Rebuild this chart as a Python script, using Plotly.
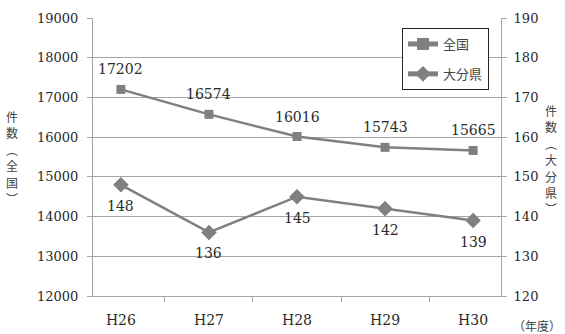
import plotly.graph_objects as go

years = ["H26", "H27", "H28", "H29", "H30"]
national = [17202, 16574, 16016, 15743, 15665]
oita = [148, 136, 145, 142, 139]

left_ticks = [12000, 13000, 14000, 15000, 16000, 17000, 18000, 19000]
right_ticks = [120, 130, 140, 150, 160, 170, 180, 190]

SERIF = "DejaVu Serif, Noto Sans CJK JP, serif"
CJK = "Noto Sans CJK JP"
GRAY = "#808080"
AXIS = "#a6a6a6"
INK = "#2a2a2a"

fig = go.Figure()
fig.add_trace(go.Scatter(
    x=years, y=national, name="全国", mode="lines+markers", legendgroup="a",
    line=dict(color=GRAY, width=2.5),
    marker=dict(symbol="square", size=9, color=GRAY),
))
fig.add_trace(go.Scatter(
    x=years, y=oita, name="大分県", yaxis="y2", mode="lines+markers", legendgroup="b",
    line=dict(color=GRAY, width=2.5),
    marker=dict(symbol="diamond", size=12, color=GRAY),
))

# value labels: national above its points, Oita below
for x, v in zip(years, national):
    fig.add_annotation(x=x, y=v, xref="x", yref="y", text=str(v), showarrow=False,
                       yshift=20, font=dict(family=SERIF, size=14, color=INK))
for x, v in zip(years, oita):
    fig.add_annotation(x=x, y=v, xref="x", yref="y2", text=str(v), showarrow=False,
                       yshift=-21, font=dict(family=SERIF, size=14, color=INK))

fig.update_layout(
    width=565, height=334,
    margin=dict(l=93, r=64, t=18, b=38),
    plot_bgcolor="white", paper_bgcolor="white",
    font=dict(family=SERIF, size=13, color=INK),
    showlegend=True,
    legend=dict(x=(489 - 93) / 408, y=(296 - 28) / 278, xanchor="right", yanchor="top",
                bgcolor="white", bordercolor="#222", borderwidth=1,
                font=dict(family=CJK, size=13, color="#444"),
                itemsizing="constant", tracegroupgap=10),
    xaxis=dict(
        showgrid=False, showline=True, linecolor=AXIS, linewidth=1,
        ticks="outside", tickcolor=AXIS, ticklen=5,
        tickson="boundaries", ticklabelstandoff=11,
        tickfont=dict(size=14), automargin=False,
    ),
    yaxis=dict(
        range=[12000, 19000], tickvals=left_ticks,
        ticktext=[str(t) for t in left_ticks],
        showgrid=True, gridcolor=AXIS, gridwidth=1,
        showline=True, linecolor=AXIS, ticks="outside", tickcolor=AXIS,
        ticklen=5, zeroline=False, ticklabelstandoff=6, automargin=False,
    ),
    yaxis2=dict(
        range=[120, 190], tickvals=right_ticks,
        ticktext=[str(t) for t in right_ticks],
        overlaying="y", side="right",
        showgrid=False, showline=True, linecolor=AXIS, ticks="outside",
        tickcolor=AXIS, ticklen=5, zeroline=False, ticklabelstandoff=4,
        automargin=False,
    ),
)

# vertical axis titles, one character per line
def vertical_title(chars, xpx, ytop_px):
    for i, ch in enumerate(chars):
        ypx = ytop_px + i * 16.5
        fig.add_annotation(text=ch, xref="paper", yref="paper",
                           x=(xpx - 93) / 408, y=(296 - ypx) / 278,
                           showarrow=False, xanchor="center", yanchor="middle",
                           borderpad=0,
                           font=dict(family=CJK, size=12, color="#444"))

vertical_title("件数︵全国︶", 12, 116)
vertical_title("件数︵大分県︶", 551, 110)

fig.add_annotation(text="（年度）", xref="paper", yref="paper",
                   x=(537 - 93) / 408, y=(296 - 325) / 278, showarrow=False,
                   xanchor="center", yanchor="middle",
                   font=dict(family=CJK, size=12, color="#444"))

fig.write_html("out.html")
